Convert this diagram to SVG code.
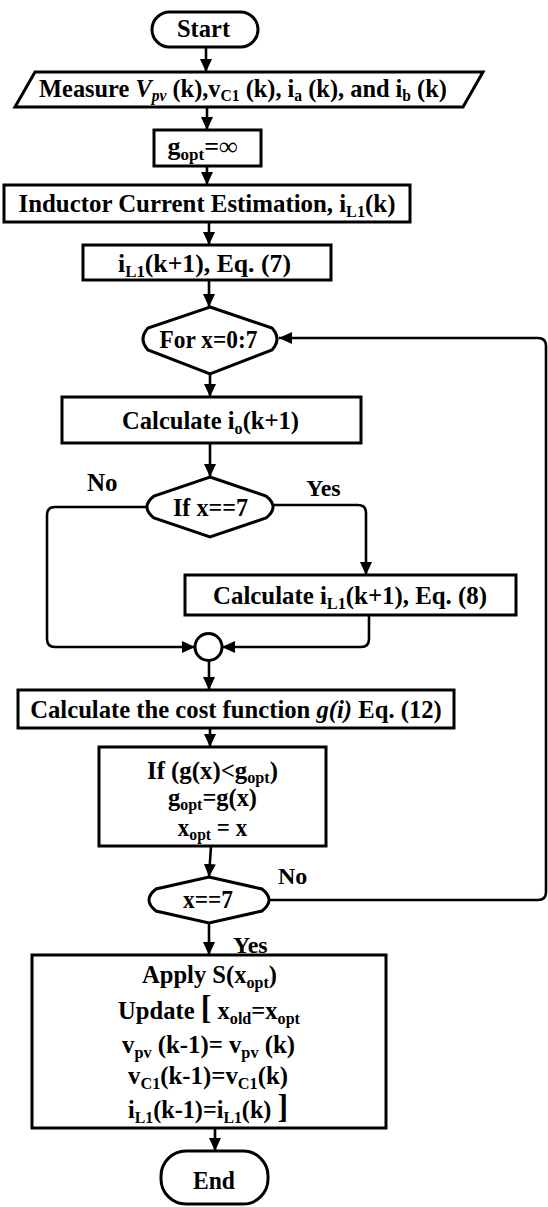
<svg xmlns="http://www.w3.org/2000/svg" width="548" height="1207" viewBox="0 0 548 1207">
<style>
.s{fill:#fff;stroke:#000;stroke-width:3}
.c{fill:none;stroke:#000;stroke-width:2.6}
text{font-family:"Liberation Serif","Times New Roman",serif;font-weight:bold;font-size:26px;fill:#000;text-anchor:middle}
.l{text-anchor:start}
.sb{font-size:17px}
.it{font-style:italic}
.br{font-size:34px}
</style>
<defs>
<marker id="ah" markerUnits="userSpaceOnUse" markerWidth="13" markerHeight="12" viewBox="0 0 13 12" refX="13" refY="6" orient="auto">
<path d="M0,0 L13,6 L0,12 Z" fill="#000"/>
</marker>
</defs>

<g id="connectors">
<path class="c" d="M206,47 V72" marker-end="url(#ah)"/>
<path class="c" d="M207,107 V130" marker-end="url(#ah)"/>
<path class="c" d="M207,166 V185" marker-end="url(#ah)"/>
<path class="c" d="M209,222 V245" marker-end="url(#ah)"/>
<path class="c" d="M209,280 V307" marker-end="url(#ah)"/>
<path class="c" d="M210,374 V397" marker-end="url(#ah)"/>
<path class="c" d="M210,443 V477" marker-end="url(#ah)"/>
<path class="c" d="M147,507 H55 Q47,507 47,515 V639 Q47,647 55,647 H195" marker-end="url(#ah)"/>
<path class="c" d="M274,505 H358 Q366,505 366,513 V575" marker-end="url(#ah)"/>
<path class="c" d="M369,615 V639 Q369,647 361,647 H222" marker-end="url(#ah)"/>
<path class="c" d="M209,660 V690" marker-end="url(#ah)"/>
<path class="c" d="M210,728 V747" marker-end="url(#ah)"/>
<path class="c" d="M211,846 L209,877" marker-end="url(#ah)"/>
<path class="c" d="M270,900 H538 Q546,900 546,892 V346 Q546,338 538,338 H279" marker-end="url(#ah)"/>
<path class="c" d="M209,923 V955" marker-end="url(#ah)"/>
<path class="c" d="M215,1128 V1151" marker-end="url(#ah)"/>
</g>

<g id="start">
<rect class="s" x="152" y="12" width="106" height="35" rx="17.5"/>
<text transform="translate(203.5,37) scale(0.98,1)" style="font-size:25px">Start</text>
</g>

<g id="measure">
<path class="s" d="M35,72 H483 L463,107 H15 Z"/>
<text transform="translate(243,97) scale(0.975,1)" style="font-size:25px">Measure <tspan class="it">V</tspan><tspan class="it sb" dy="4" style="font-size:16px">pv</tspan><tspan dy="-4"> (k),v</tspan><tspan class="sb" dy="4" style="font-size:16px">C1</tspan><tspan dy="-4"> (k), i</tspan><tspan class="sb" dy="4" style="font-size:16px">a</tspan><tspan dy="-4"> (k), and i</tspan><tspan class="sb" dy="4" style="font-size:16px">b</tspan><tspan dy="-4"> (k)</tspan></text>
</g>

<g id="gopt-init">
<rect class="s" x="154" y="130" width="107" height="36"/>
<text transform="translate(202.5,155)">g<tspan class="sb" dy="5">opt</tspan><tspan dy="-5">=∞</tspan></text>
</g>

<g id="inductor-estimation">
<rect class="s" x="4" y="185" width="406" height="37"/>
<text transform="translate(207,212) scale(0.956,1)">Inductor Current Estimation, i<tspan class="sb" dy="5">L1</tspan><tspan dy="-5">(k)</tspan></text>
</g>

<g id="eq7">
<rect class="s" x="83" y="245" width="248" height="35"/>
<text transform="translate(204.5,272) scale(0.99,1)">i<tspan class="sb" dy="5">L1</tspan><tspan dy="-5">(k+1), Eq. (7)</tspan></text>
</g>

<g id="for-loop">
<path class="s" d="M210,307 L272,328 Q282,339 272,350 L210,374 L148,350 Q138,339 148,328 Z"/>
<text transform="translate(208.5,348) scale(0.9,1)">For x=0:7</text>
</g>

<g id="calc-io">
<rect class="s" x="62" y="397" width="299" height="46"/>
<text transform="translate(210.5,429) scale(0.945,1)">Calculate i<tspan class="sb" dy="5">o</tspan><tspan dy="-5">(k+1)</tspan></text>
</g>

<g id="if-x7">
<path class="s" d="M210,477 L266,496 Q280,507 266,518 L210,537 L154,518 Q140,507 154,496 Z"/>
<text transform="translate(210.5,516) scale(0.93,1)">If x==7</text>
<text class="l" transform="translate(87,491)" style="font-size:25px">No</text>
<text class="l" transform="translate(306,496)" style="font-size:24px">Yes</text>
</g>

<g id="calc-il1">
<rect class="s" x="185" y="575" width="331" height="40"/>
<text transform="translate(350,604) scale(0.956,1)">Calculate i<tspan class="sb" dy="5">L1</tspan><tspan dy="-5">(k+1), Eq. (8)</tspan></text>
</g>

<g id="junction">
<circle class="s" cx="208.5" cy="647" r="13.5" stroke-width="2.5"/>
</g>

<g id="cost-function">
<rect class="s" x="18" y="690" width="436" height="38"/>
<text transform="translate(236,718) scale(0.949,1)">Calculate the cost function <tspan class="it">g(i)</tspan> Eq. (12)</text>
</g>

<g id="compare">
<rect class="s" x="99" y="747" width="227" height="99"/>
<text transform="translate(212.5,779) scale(0.954,1)">If (g(x)&lt;g<tspan class="sb" dy="4">opt</tspan><tspan dy="-4">)</tspan></text>
<text transform="translate(212.5,806) scale(0.94,1)">g<tspan class="sb" dy="4">opt</tspan><tspan dy="-4">=g(x)</tspan></text>
<text transform="translate(212.5,836) scale(0.92,1)" style="font-size:25px">x<tspan class="sb" dy="4">opt</tspan><tspan dy="-4"> = x</tspan></text>
</g>

<g id="check-x7">
<path class="s" d="M209,877 L262,889 Q276,900 262,911 L209,923 L156,911 Q142,900 156,889 Z"/>
<text transform="translate(208,908) scale(0.9,1)">x==7</text>
<text class="l" transform="translate(278,884)" style="font-size:24px">No</text>
<text class="l" transform="translate(233,953)" style="font-size:24px">Yes</text>
</g>

<g id="apply">
<rect class="s" x="32" y="955" width="354" height="173"/>
<text transform="translate(209.5,983) scale(0.945,1)">Apply S(x<tspan class="sb" dy="5">opt</tspan><tspan dy="-5">)</tspan></text>
<text transform="translate(209,1019) scale(0.946,1)">Update <tspan class="br">[</tspan> x<tspan class="sb" dy="5">old</tspan><tspan dy="-5">=x</tspan><tspan class="sb" dy="5">opt</tspan></text>
<text transform="translate(208.5,1053) scale(0.954,1)">v<tspan class="sb" dy="5">pv</tspan><tspan dy="-5"> (k-1)= v</tspan><tspan class="sb" dy="5">pv</tspan><tspan dy="-5"> (k)</tspan></text>
<text transform="translate(208,1084) scale(0.955,1)">v<tspan class="sb" dy="5">C1</tspan><tspan dy="-5">(k-1)=v</tspan><tspan class="sb" dy="5">C1</tspan><tspan dy="-5">(k)</tspan></text>
<text transform="translate(208,1118) scale(0.93,1)">i<tspan class="sb" dy="5">L1</tspan><tspan dy="-5">(k-1)=i</tspan><tspan class="sb" dy="5">L1</tspan><tspan dy="-5">(k) </tspan><tspan class="br">]</tspan></text>
</g>

<g id="end">
<rect class="s" x="161" y="1151" width="107" height="53" rx="25"/>
<text transform="translate(214,1189) scale(0.944,1)" style="font-size:25px">End</text>
</g>
</svg>
